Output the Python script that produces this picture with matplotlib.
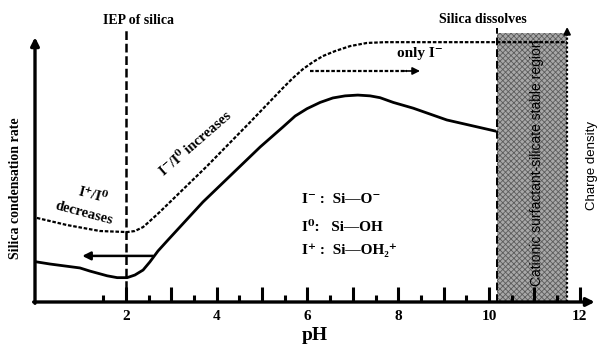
import matplotlib
matplotlib.use('Agg')
import matplotlib.pyplot as plt

plt.rcParams['font.family'] = ['Liberation Serif', 'DejaVu Serif']
plt.rcParams['font.weight'] = 'bold'
plt.rcParams['hatch.linewidth'] = 0.6

# solid curve: silica condensation rate vs pH
rate_ph = [0.04, 0.33, 0.99, 1.21, 1.59, 1.81, 2.03, 2.20, 2.38, 2.53, 2.71,
           2.93, 3.70, 4.96, 5.46, 5.73, 5.99, 6.28, 6.56, 6.83, 7.11, 7.38,
           7.60, 7.89, 8.33, 9.07, 10.13]
rate_val = [1.53, 1.45, 1.30, 1.18, 1.00, 0.93, 0.93, 1.03, 1.22, 1.53, 1.95,
            2.37, 3.82, 5.92, 6.68, 7.10, 7.38, 7.62, 7.79, 7.87, 7.90, 7.87,
            7.80, 7.62, 7.40, 6.95, 6.53]

# dashed curve: charge density vs pH
charge_ph = [0.04, 0.70, 1.43, 2.03, 2.20, 2.38, 2.53, 2.75, 3.79, 4.74, 5.46,
             5.68, 5.90, 6.12, 6.34, 6.61, 6.94, 7.31, 7.71, 11.72]
charge_val = [3.21, 2.94, 2.71, 2.67, 2.71, 2.86, 3.09, 3.44, 5.19, 6.87, 8.17,
              8.55, 8.89, 9.16, 9.39, 9.58, 9.77, 9.89, 9.92, 9.92]

iep_ph = 2.0
dissolve_ph = 10.18
region_end = 11.72
region_top = 10.27

major_ticks = [2, 3, 4, 5, 6, 7, 8, 9, 10, 11, 12]
minor_ticks = [1.5, 2.5, 3.5, 4.5, 5.5, 6.5, 7.5, 8.5, 9.5, 10.5, 11.5]
tick_labels = [2, 4, 6, 8, 10, 12]

fig = plt.figure(figsize=(5.98, 3.47), dpi=100)
ax = fig.add_axes([35 / 598, 45 / 347, 563 / 598, 302 / 347])
ax.set_xlim(0, 12.40)
ax.set_ylim(0, 11.53)
for s in ax.spines.values():
    s.set_visible(False)

# axes drawn as arrows
ax.annotate('', xy=(12.33, 0), xytext=(-0.03, 0),
            arrowprops=dict(arrowstyle='-|>', lw=2.4, color='black',
                            mutation_scale=12, shrinkA=0, shrinkB=0),
            annotation_clip=False)
ax.annotate('', xy=(0, 10.11), xytext=(0, -0.05),
            arrowprops=dict(arrowstyle='-|>', lw=2.4, color='black',
                            mutation_scale=12, shrinkA=0, shrinkB=0),
            annotation_clip=False)

# ticks
ax.set_xticks(major_ticks)
ax.set_xticks(minor_ticks, minor=True)
ax.set_xticklabels([])
ax.set_yticks([])
ax.tick_params(axis='x', which='major', direction='in', length=11, width=2.2)
ax.tick_params(axis='x', which='minor', direction='in', length=5, width=2.2)
for t in tick_labels:
    ax.text(t, -0.57, str(t), ha='center', va='center', fontsize=11)

# stable region
ax.fill_between([dissolve_ph, region_end], 0, region_top, facecolor='#a8a8a8',
                edgecolor='#5c5c5c', hatch='xxxxxx', linewidth=0, zorder=1)
ax.plot([dissolve_ph, dissolve_ph], [0, 10.46], color='black', lw=1.4,
        dashes=(4, 2), zorder=3)
ax.plot([region_end, region_end], [0, 10.25], color='black', lw=1.6,
        dashes=(1, 1), zorder=3)
ax.annotate('', xy=(region_end, 10.5), xytext=(region_end, 10.2),
            arrowprops=dict(arrowstyle='-|>', lw=1.4, color='black',
                            mutation_scale=10, shrinkA=0, shrinkB=0),
            annotation_clip=False)

# IEP line
ax.plot([iep_ph, iep_ph], [0, 10.46], color='black', lw=1.8, dashes=(3.5, 1.5), zorder=3)

# curves
ax.plot(rate_ph, rate_val, color='black', lw=2.0, solid_joinstyle='round', zorder=4)
ax.plot(charge_ph, charge_val, color='black', lw=1.6, dashes=(1.6, 0.8), zorder=4)

# arrows
ax.plot([6.06, 8.2], [8.82, 8.82], color='black', lw=1.6, dashes=(1.6, 0.8))
ax.annotate('', xy=(8.48, 8.82), xytext=(8.1, 8.82),
            arrowprops=dict(arrowstyle='-|>', lw=1.2, color='black',
                            mutation_scale=11, shrinkA=0, shrinkB=0))
ax.annotate('', xy=(1.04, 1.76), xytext=(2.60, 1.76),
            arrowprops=dict(arrowstyle='-|>', lw=1.8, color='black',
                            mutation_scale=12, shrinkA=0, shrinkB=0))

# labels
ax.text(2.27, 10.76, 'IEP of silica', ha='center', va='center', fontsize=10)
ax.text(9.87, 10.80, 'Silica dissolves', ha='center', va='center', fontsize=10)
ax.text(8.48, 9.47, 'only I⁻', ha='center', va='center', fontsize=11)
ax.text(3.55, 6.03, 'I⁻/I⁰ increases', ha='center', va='center',
        fontsize=10.5, rotation=41)
ax.text(1.28, 4.05, 'I⁺/I⁰', ha='center', va='center', fontsize=10.5, rotation=-15)
ax.text(1.08, 3.40, 'decreases', ha='center', va='center', fontsize=10.5, rotation=-15)

ax.text(5.88, 3.93, 'I⁻ :  Si—O⁻', ha='left', va='center', fontsize=11)
ax.text(5.88, 2.86, 'I⁰:   Si—OH', ha='left', va='center', fontsize=11)
ax.text(5.88, 1.98, 'I⁺ :  Si—OH₂⁺', ha='left', va='center', fontsize=11)

narrow = ['Liberation Sans Narrow', 'Liberation Sans', 'DejaVu Sans']
ax.text(11.06, 5.31, 'Cationic surfactant-silicate stable region', ha='center',
        va='center', rotation=90, fontsize=10, family=narrow, fontweight='normal')
ax.text(12.27, 5.23, 'Charge density', ha='center', va='center', rotation=90,
        fontsize=9.5, family=narrow, fontweight='normal')
ax.text(-0.44, 4.35, 'Silica condensation rate', ha='center', va='center',
        rotation=90, fontsize=10)
ax.text(6.17, -1.26, 'pH', ha='center', va='center', fontsize=14)

fig.savefig('out.png', dpi=100)
